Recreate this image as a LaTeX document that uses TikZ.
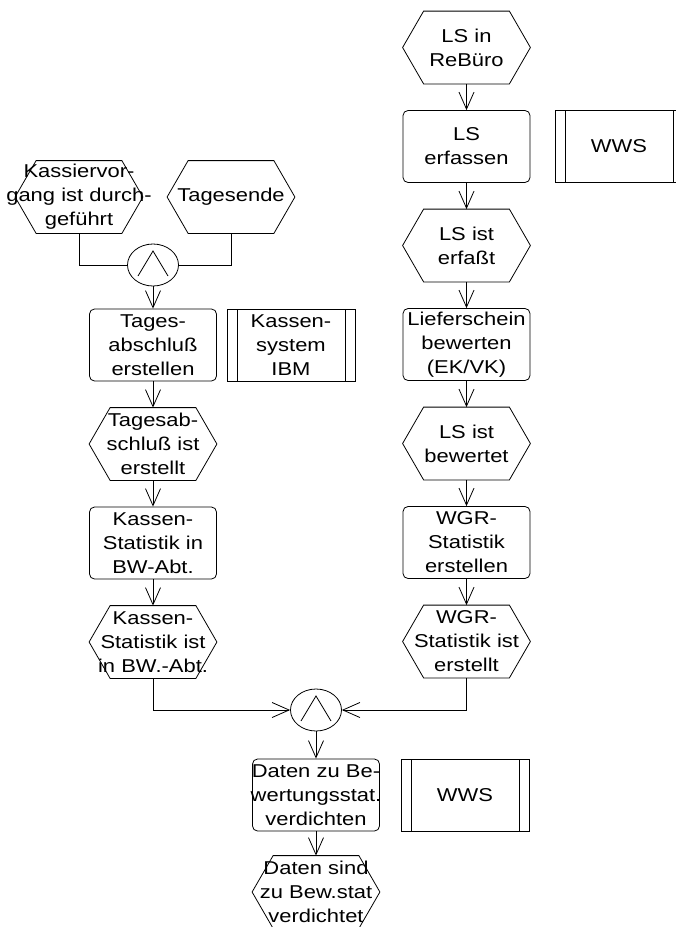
\documentclass[tikz,border=0pt]{standalone}
\usepackage{fontspec}
\setmainfont{Liberation Sans}[FakeStretch=1.18]
\usetikzlibrary{arrows.meta,calc,shapes.geometric,positioning}
\tikzset{
    func/.style =   {rectangle,
                    rounded corners=5pt,
                    draw=black,
                    text=black,
                    minimum width=127pt,
                    minimum height=72pt,
                    text width=150pt,
                    inner xsep=-11.5pt,
                    inner ysep=0pt,
                    align=center},
    event/.style =  {rectangle,
                    text=black,
                    minimum width=127pt,
                    minimum height=72pt,
                    text width=150pt,
                    inner xsep=-11.5pt,
                    inner ysep=0pt,
                    align=center},
    sys/.style =    {rectangle,
                    draw=black,
                    text=black,
                    minimum width=128pt,
                    minimum height=72pt,
                    inner sep=0pt,
                    align=center,
                    path picture={
                        \draw ([xshift=10pt]path picture bounding box.north west) -- ([xshift=10pt]path picture bounding box.south west)
                              ([xshift=-10pt]path picture bounding box.north east) -- ([xshift=-10pt]path picture bounding box.south east);}},
    und/.style =    {ellipse,
                    draw=black,
                    minimum width=51pt,
                    minimum height=42pt,
                    inner sep=0pt,
                    path picture={
                        \draw ([shift={(-15pt,-11pt)}]path picture bounding box.center) -- ([shift={(0pt,14pt)}]path picture bounding box.center)
                              -- ([shift={(15pt,-11pt)}]path picture bounding box.center);}},
    >={Straight Barb[length=17pt,width=15pt]},
    node distance=99pt}

\begin{document}
\begin{tikzpicture}[x=1pt,y=1pt,line width=0.8pt,font=\fontsize{18.6}{24}\selectfont]
                \useasboundingbox (0,0) rectangle (676,-927);

                % rechte Kette
                \node[event]    (lsin)      at (466.5,-47.5)        {LS in\\ReBüro};
                \node[func]     (lserf)     [below of=lsin]         {LS\\erfassen};
                \node[sys]      (wwsa)      [right of=lserf,node distance=152.5pt] {WWS};
                \node[event]    (lsist)     [below of=lserf]        {LS ist\\erfaßt};
                \node[func]     (liefer)    [below of=lsist]        {Lieferschein\\bewerten\\(EK/VK)};
                \node[event]    (lsbew)     [below of=liefer]       {LS ist\\bewertet};
                \node[func]     (wgr)       [below of=lsbew]        {WGR-\\Statistik\\erstellen};
                \node[event]    (wgrist)    [below of=wgr]          {WGR-\\Statistik ist\\erstellt};

                % linke Kette
                \node[event]    (kassier)   at (79,-197)            {Kassiervor-\\gang ist durch-\\geführt};
                \node[event]    (tagesende) at (231,-197)           {Tagesende};
                \node[und]      (unda)      at (153,-265)           {};
                \node[func]     (tagesab)   [below of=unda,node distance=80pt] {Tages-\\abschluß\\erstellen};
                \node[sys]      (kassys)    [right of=tagesab,node distance=138pt] {Kassen-\\system\\IBM};
                \node[event]    (tagesist)  [below of=tagesab]      {Tagesab-\\schluß ist\\erstellt};
                \node[func]     (kstat)     [below of=tagesist]     {Kassen-\\Statistik in\\BW-Abt.};
                \node[event]    (kstatist)  [below of=kstat]        {Kassen-\\Statistik ist\\in BW.-Abt.};

                % Zusammenfuehrung
                \node[und]      (undb)      at (316,-710)           {};
                \node[func]     (daten)     [below of=undb,node distance=85pt] {Daten zu Be-\\wertungsstat.\\verdichten};
                \node[sys]      (wwsb)      [right of=daten,node distance=149pt] {WWS};
                \node[event]    (datenist)  [below of=daten,node distance=97pt] {Daten sind\\zu Bew.stat\\verdichtet};

                % Sechsecke
                \foreach \n in {lsin,lsist,lsbew,wgrist,kassier,tagesende,tagesist,kstatist,datenist}
                    \draw ($(\n.north west)+(21pt,0)$) -- ($(\n.north east)+(-21pt,0)$) -- (\n.east)
                          -- ($(\n.south east)+(-21pt,0)$) -- ($(\n.south west)+(21pt,0)$) -- (\n.west) -- cycle;

                \draw (kassier.south) |- (unda.west);
                \draw (tagesende.south) |- (unda.east);
                \draw [->] (kstatist.south) |- (undb.west);
                \draw [->] (wgrist.south) |- (undb.east);

                \path [->]  (lsin) edge []      (lserf)
                            (lserf) edge []     (lsist)
                            (lsist) edge []     (liefer)
                            (liefer) edge []    (lsbew)
                            (lsbew) edge []     (wgr)
                            (wgr) edge []       (wgrist)
                            (unda) edge []      (tagesab)
                            (tagesab) edge []   (tagesist)
                            (tagesist) edge []  (kstat)
                            (kstat) edge []     (kstatist)
                            (undb) edge []      (daten)
                            (daten) edge []     (datenist);
\end{tikzpicture}
\end{document}
